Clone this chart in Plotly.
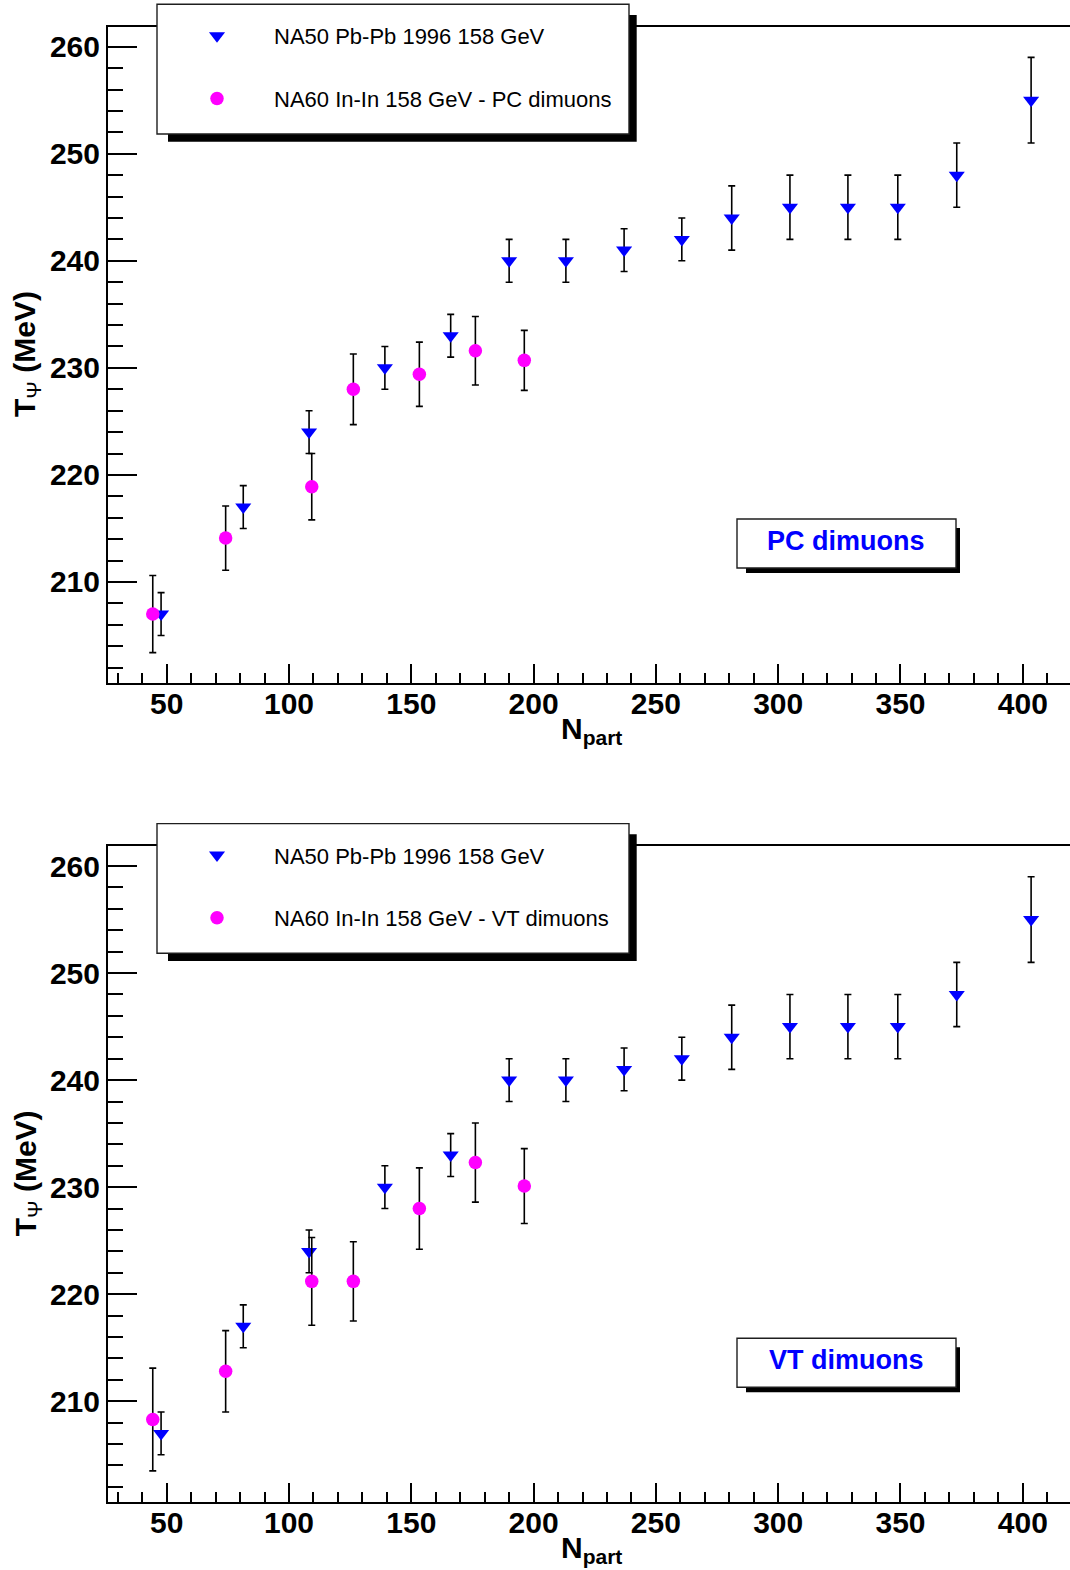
import plotly.graph_objects as go

# ---------------- data ----------------
na50_npart = [47.7, 81.3, 108.2, 139.2, 166.1, 190.0, 213.2, 237.0, 260.6, 281.0, 304.8, 328.5, 348.9, 373.0, 403.4]
na50_tpsi = [207, 217, 224, 230, 233, 240, 240, 241, 242, 244, 245, 245, 245, 248, 255]
na50_err = [2, 2, 2, 2, 2, 2, 2, 2, 2, 3, 3, 3, 3, 3, 4]

na60_npart = [44.3, 74.1, 109.3, 126.3, 153.3, 176.2, 196.2]
na60_pc_tpsi = [207.0, 214.1, 218.9, 228.0, 229.4, 231.6, 230.7]
na60_pc_err = [3.6, 3.0, 3.1, 3.3, 3.0, 3.2, 2.8]
na60_vt_tpsi = [208.3, 212.8, 221.2, 221.2, 228.0, 232.3, 230.1]
na60_vt_err = [4.8, 3.8, 4.1, 3.7, 3.8, 3.7, 3.5]

na50_name = "NA50 Pb-Pb 1996 158 GeV"
na60_pc_name = "NA60 In-In 158 GeV - PC dimuons"
na60_vt_name = "NA60 In-In 158 GeV - VT dimuons"
panel_labels = ["PC dimuons", "VT dimuons"]

x_range = [26.0, 419.3]
y_range = [200.59, 261.84]
y_ticks = [210, 220, 230, 240, 250, 260]
x_ticks = [50, 100, 150, 200, 250, 300, 350, 400]

# ---------------- layout helpers ----------------
W, H = 1070, 1570
FONT = "Liberation Sans, Arial, Helvetica, sans-serif"
BLUE = "rgb(0,0,255)"
MAGENTA = "rgb(255,0,255)"


def px(x):
    return x / W


def py(y):
    return 1 - y / H


OFF = 819.3          # vertical offset of second panel (pixels)
PLOT_L, PLOT_T, PLOT_B = 108, 27, 682.7

fig = go.Figure()

panels = [
    ("x", "y", "legend", na60_pc_name, na60_pc_tpsi, na60_pc_err),
    ("x2", "y2", "legend2", na60_vt_name, na60_vt_tpsi, na60_vt_err),
]

for xa, ya, leg, name60, t60, e60 in panels:
    fig.add_trace(go.Scatter(
        x=na50_npart, y=na50_tpsi, mode="markers", name=na50_name,
        xaxis=xa, yaxis=ya, legend=leg, legendgroup=leg + "a",
        marker=dict(symbol="triangle-down", size=14, color=BLUE),
        error_y=dict(type="data", array=na50_err, color="black", thickness=1.6, width=3.5),
    ))
    fig.add_trace(go.Scatter(
        x=na60_npart, y=t60, mode="markers", name=name60,
        xaxis=xa, yaxis=ya, legend=leg, legendgroup=leg + "b",
        marker=dict(symbol="circle", size=13.5, color=MAGENTA),
        error_y=dict(type="data", array=e60, color="black", thickness=1.6, width=3.5),
    ))

tickfont = dict(family=FONT, size=30, color="black", weight="bold")

layout = dict(
    width=W, height=H,
    margin=dict(l=0, r=0, t=0, b=0),
    paper_bgcolor="white", plot_bgcolor="white",
    showlegend=True,
)

shapes = []
annotations = []

for i, (xa, ya, leg, name60, t60, e60) in enumerate(panels):
    o = OFF * i
    xkey = "xaxis" if i == 0 else "xaxis2"
    ykey = "yaxis" if i == 0 else "yaxis2"
    layout[xkey] = dict(
        domain=[px(PLOT_L), 1.0], anchor=ya, range=x_range,
        showgrid=False, zeroline=False, showline=True, mirror=True,
        linecolor="black", linewidth=2,
        tickmode="array", tickvals=x_ticks,
        ticks="inside", ticklen=19, tickwidth=1.6, tickcolor="black",
        minor=dict(ticks="inside", ticklen=10, dtick=10, tick0=0, tickwidth=1.6, tickcolor="black"),
        tickfont=tickfont, ticklabelstandoff=-7,
    )
    layout[ykey] = dict(
        domain=[py(PLOT_B + o), py(PLOT_T + o)], anchor=xa, range=y_range,
        showgrid=False, zeroline=False, showline=True, mirror=False,
        linecolor="black", linewidth=2,
        tickmode="array", tickvals=y_ticks,
        ticks="inside", ticklen=29, tickwidth=1.6, tickcolor="black",
        minor=dict(ticks="inside", ticklen=15, dtick=2, tick0=0, tickwidth=1.6, tickcolor="black"),
        tickfont=tickfont,
    )
    layout[leg] = dict(
        x=px(160), y=py(15 + o), xanchor="left", yanchor="top",
        bgcolor="rgba(0,0,0,0)", borderwidth=0,
        font=dict(family=FONT, size=22, color="black"),
        itemwidth=104, tracegroupgap=31, traceorder="grouped",
    )
    # legend box with shadow
    shapes.append(dict(type="rect", xref="paper", yref="paper",
                       x0=px(168), x1=px(636.7), y0=py(141.7 + o), y1=py(15 + o),
                       fillcolor="black", line=dict(width=0), layer="above"))
    shapes.append(dict(type="rect", xref="paper", yref="paper",
                       x0=px(157), x1=px(629), y0=py(134 + o), y1=py(4.3 + o),
                       fillcolor="white", line=dict(color="rgb(30,30,30)", width=1.4), layer="above"))
    # label box with shadow
    shapes.append(dict(type="rect", xref="paper", yref="paper",
                       x0=px(746), x1=px(960), y0=py(573 + o), y1=py(528 + o),
                       fillcolor="black", line=dict(width=0), layer="above"))
    shapes.append(dict(type="rect", xref="paper", yref="paper",
                       x0=px(737), x1=px(956), y0=py(568 + o), y1=py(519 + o),
                       fillcolor="white", line=dict(color="rgb(30,30,30)", width=1.4), layer="above"))
    annotations.append(dict(
        text="<b>" + panel_labels[i] + "</b>", xref="paper", yref="paper",
        x=px(846), y=py(541 + o), xanchor="center", yanchor="middle", showarrow=False,
        font=dict(family=FONT, size=27, color=BLUE)))
    # axis titles
    annotations.append(dict(
        text="<b>T</b><sub>Ψ</sub><b> (MeV)</b>", xref="paper", yref="paper",
        x=px(27), y=py(354 + o), xanchor="center", yanchor="middle", showarrow=False,
        textangle=-90, font=dict(family=FONT, size=30, color="black")))
    annotations.append(dict(
        text="<b>N<sub>part</sub></b>", xref="paper", yref="paper",
        x=px(591), y=py(730 + o), xanchor="center", yanchor="middle", showarrow=False,
        font=dict(family=FONT, size=30, color="black")))

layout["shapes"] = shapes
layout["annotations"] = annotations
fig.update_layout(**layout)

fig.write_html("out.html", config={"displayModeBar": False},
               post_script="document.body.style.margin='0';")
